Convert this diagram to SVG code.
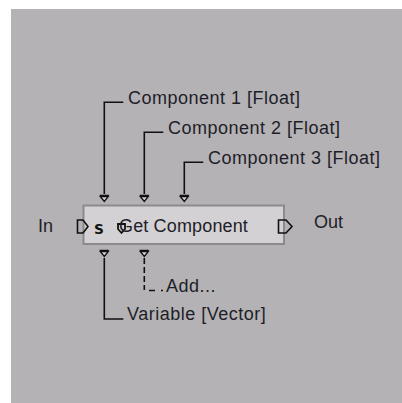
<svg xmlns="http://www.w3.org/2000/svg" width="402" height="403" viewBox="0 0 402 403">
<style>
.t{font-family:"Liberation Sans",Arial,sans-serif;font-size:18px;fill:#1e1e28}
.ls{letter-spacing:0.5px}
.w{fill:none;stroke:#111;stroke-width:1.6}
.d{fill:none;stroke:#111;stroke-width:1.6;stroke-dasharray:6,3}
.port{fill:#d3d1d4;stroke:#111;stroke-width:1.3}
.pin{fill:none;stroke:#111;stroke-width:1.8;stroke-linejoin:miter}
</style>
<defs>
<g id="tri"><path d="M-4.5,0.5 H4.5 M-4,1.5 L0,6.5 L4,1.5 Z" class="port"/></g>
</defs>
<rect x="0" y="0" width="402" height="403" fill="#ffffff"/>
<rect x="11" y="9" width="391" height="394" fill="#b4b2b5"/>
<g id="connectors">
<path class="w" d="M104.3,194 V102.3 H123.3"/>
<path class="w" d="M144.3,194 V132.3 H163.3"/>
<path class="w" d="M184.3,194 V162.3 H203.3"/>
<path class="w" d="M104.3,258 V319 H123.3"/>
<path class="d" d="M144.3,258 V290"/>
<path class="w" d="M149,290.5 H155 M161,290.5 H163"/>
</g>
<g id="node-get-component">
<rect x="83.5" y="205.5" width="200.5" height="38.5" fill="#d3d1d4" stroke="#8c8a8d" stroke-width="2"/>
<use href="#tri" x="104.3" y="195"/>
<use href="#tri" x="144.3" y="195"/>
<use href="#tri" x="184.3" y="195"/>
<use href="#tri" x="104.3" y="250"/>
<use href="#tri" x="144.3" y="250"/>
<path class="w" d="M77.5,220 H83 L88,226.5 L83,233 H77.5 Z" fill="#d3d1d4"/>
<path class="w" d="M278.5,220 H286 L292,226.5 L286,233 H278.5 Z" fill="#d3d1d4"/>
<text x="93.5" y="233.5" style="font-family:'DejaVu Sans Mono',monospace;font-size:18px;font-weight:bold;fill:#111">s</text>
<path class="pin" d="M118,224 H125 V229 L121.5,233 L118,229 Z"/>
<text class="t" x="119" y="231.5" style="letter-spacing:0.15px">Get Component</text>
</g>
<g id="label-in"><text class="t" x="38" y="231.5">In</text></g>
<g id="label-out"><text class="t" x="314" y="227.5">Out</text></g>
<g id="label-c1"><text class="t ls" x="128" y="103.5">Component 1 [Float]</text></g>
<g id="label-c2"><text class="t ls" x="168" y="133.5">Component 2 [Float]</text></g>
<g id="label-c3"><text class="t ls" x="208" y="163.5">Component 3 [Float]</text></g>
<g id="label-var"><text class="t ls" x="127" y="320">Variable [Vector]</text></g>
<g id="label-add"><text class="t ls" x="166" y="291.5">Add...</text></g>
</svg>
